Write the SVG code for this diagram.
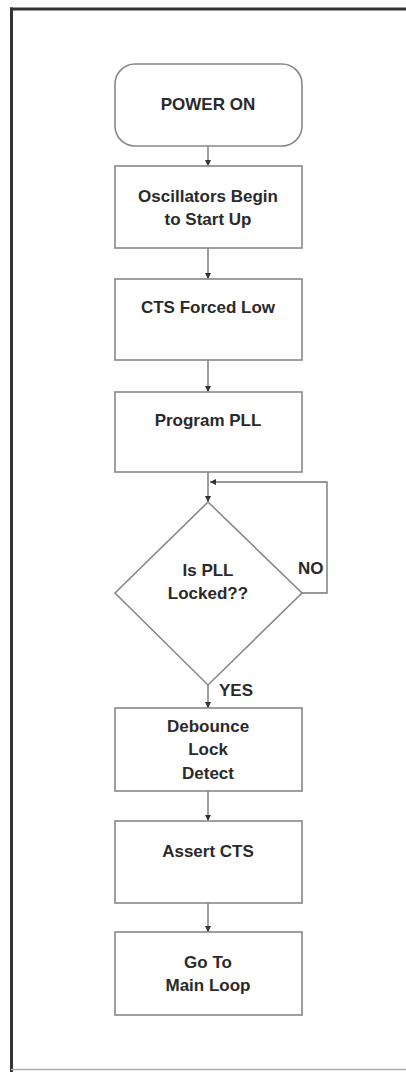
<svg xmlns="http://www.w3.org/2000/svg" width="406" height="1072" viewBox="0 0 406 1072">
<style>
.box{fill:#fff;stroke:#888;stroke-width:1.6}
.lbl{font-family:"Liberation Sans",Arial,sans-serif;font-size:17px;font-weight:bold;fill:#2a2a2a;text-anchor:middle}
.side{font-family:"Liberation Sans",Arial,sans-serif;font-size:17px;font-weight:bold;fill:#2a2a2a}
.con{fill:none;stroke:#777;stroke-width:1.4}
</style>
<defs>
<marker id="ah" viewBox="0 0 10 10" refX="10" refY="5" markerWidth="6" markerHeight="6" orient="auto" markerUnits="userSpaceOnUse">
<path d="M0,0 L10,5 L0,10 Z" fill="#333"/>
</marker>
</defs>
<rect width="406" height="1072" fill="#fff"/>
<g id="frame">
<line x1="11.5" y1="7.5" x2="11.5" y2="1072" stroke="#333" stroke-width="3"/>
<line x1="10" y1="9" x2="406" y2="9" stroke="#333" stroke-width="3"/>
<line x1="11" y1="1069.5" x2="406" y2="1069.5" stroke="#aaa" stroke-width="1.5"/>
</g>
<g id="connectors">
<line class="con" x1="208" y1="146" x2="208" y2="166" marker-end="url(#ah)"/>
<line class="con" x1="208" y1="248" x2="208" y2="279" marker-end="url(#ah)"/>
<line class="con" x1="208" y1="360" x2="208" y2="392" marker-end="url(#ah)"/>
<line class="con" x1="208" y1="472" x2="208" y2="502" marker-end="url(#ah)"/>
<polyline class="con" points="302,593 327,593 327,482 210,482" marker-end="url(#ah)"/>
<line class="con" x1="208" y1="685" x2="208" y2="708" marker-end="url(#ah)"/>
<line class="con" x1="208" y1="791" x2="208" y2="821" marker-end="url(#ah)"/>
<line class="con" x1="208" y1="903" x2="208" y2="932" marker-end="url(#ah)"/>
<text class="side" x="298" y="574">NO</text>
<text class="side" x="219" y="696">YES</text>
</g>
<g id="power-on">
<rect class="box" x="115" y="64" width="187" height="82" rx="20" ry="20"/>
<text class="lbl" x="208" y="110">POWER ON</text>
</g>
<g id="oscillators">
<rect class="box" x="115" y="166" width="187" height="82"/>
<text class="lbl" x="208" y="202">Oscillators Begin</text>
<text class="lbl" x="208" y="225">to Start Up</text>
</g>
<g id="cts-low">
<rect class="box" x="115" y="279" width="187" height="81"/>
<text class="lbl" x="208" y="313">CTS Forced Low</text>
</g>
<g id="program-pll">
<rect class="box" x="115" y="392" width="187" height="80"/>
<text class="lbl" x="208" y="426">Program PLL</text>
</g>
<g id="pll-locked">
<polygon class="box" points="208,502 302,593 208,685 115,593"/>
<text class="lbl" x="208" y="576">Is PLL</text>
<text class="lbl" x="208" y="599">Locked??</text>
</g>
<g id="debounce">
<rect class="box" x="115" y="708" width="187" height="83"/>
<text class="lbl" x="208" y="732">Debounce</text>
<text class="lbl" x="208" y="755">Lock</text>
<text class="lbl" x="208" y="779">Detect</text>
</g>
<g id="assert-cts">
<rect class="box" x="115" y="821" width="187" height="82"/>
<text class="lbl" x="208" y="857">Assert CTS</text>
</g>
<g id="main-loop">
<rect class="box" x="115" y="932" width="187" height="83"/>
<text class="lbl" x="208" y="968">Go To</text>
<text class="lbl" x="208" y="991">Main Loop</text>
</g>
</svg>
